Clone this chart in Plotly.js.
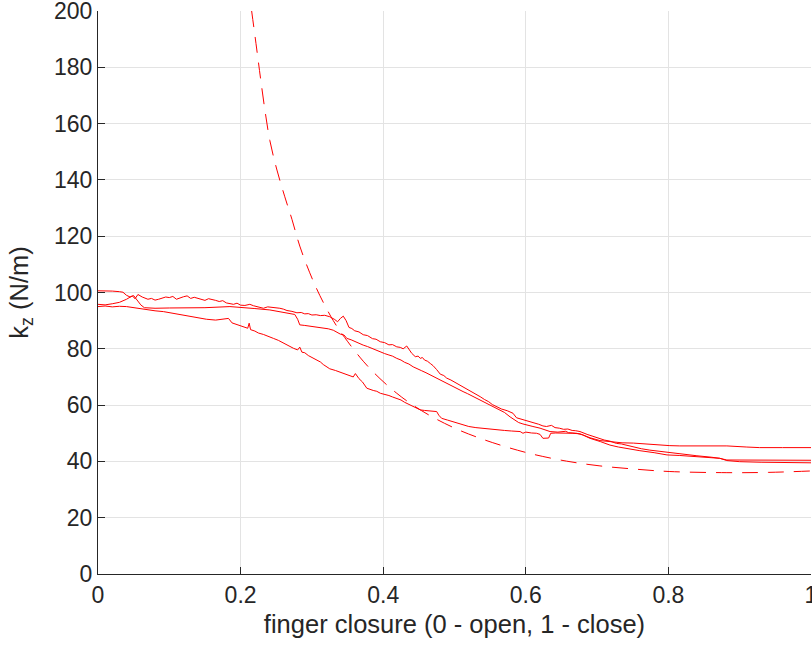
<!DOCTYPE html>
<html>
<head>
<meta charset="utf-8">
<script src="https://cdn.plot.ly/plotly-3.0.1.min.js"></script>
<style>
  html, body { margin: 0; padding: 0; background: #ffffff; }
  #chart { width: 812px; height: 646px; }
</style>
</head>
<body>
<div id="chart"></div>
<script>
// Measured stiffness k_z against finger closure: three recorded sweeps plus a fitted model curve.

const sweepAX = [0.000,0.010,0.020,0.030,0.040,0.048,0.052,0.056,0.062,0.066,0.070,0.075,0.080,0.085,0.090,0.095,0.100,0.105,0.110,0.115,0.120,0.125,0.130,0.135,0.140,0.145,0.150,0.155,0.160,0.165,0.170,0.175,0.180,0.185,0.190,0.195,0.200,0.206,0.213,0.218,0.222,0.227,0.232,0.238,0.245,0.250,0.255,0.260,0.265,0.272,0.279,0.285,0.290,0.295,0.300,0.306,0.312,0.318,0.325,0.332,0.336,0.340,0.344,0.348,0.352,0.356,0.360,0.366,0.372,0.378,0.385,0.390,0.396,0.402,0.408,0.413,0.419,0.424,0.428,0.433,0.436,0.440,0.445,0.449,0.452,0.455,0.458,0.462,0.466,0.470,0.475,0.480,0.485,0.489,0.495,0.500,0.506,0.512,0.518,0.524,0.530,0.536,0.542,0.548,0.553,0.559,0.566,0.574,0.582,0.587,0.594,0.600,0.606,0.612,0.618,0.624,0.629,0.636,0.641,0.647,0.653,0.659,0.665,0.670,0.676,0.686,0.695,0.703,0.710,0.718,0.727,0.734,0.740,0.751,0.762,0.774,0.786,0.798,0.816,0.840,0.860,0.872,0.882,0.900,0.930,0.960,1.000];
const sweepAY = [95.8,95.6,96.0,96.5,97.6,98.8,97.8,99.3,98.4,98.0,97.6,97.9,97.3,97.6,97.9,98.4,98.2,98.6,97.6,98.1,98.5,98.8,97.9,98.3,98.0,97.5,97.2,97.8,97.6,97.2,96.8,97.1,96.3,96.0,95.8,96.2,95.5,95.4,95.8,95.3,95.0,94.8,94.4,94.9,94.8,94.5,94.4,94.1,93.6,93.3,92.8,92.9,92.4,92.5,92.0,92.1,91.8,91.9,91.4,90.4,89.6,90.8,91.6,90.0,87.6,87.2,86.4,86.0,85.0,84.7,83.6,83.4,82.5,82.2,81.4,81.5,80.7,80.5,80.0,81.0,80.0,78.4,77.2,77.4,76.6,76.9,76.0,75.6,74.8,74.0,72.6,71.0,70.5,69.6,68.9,68.2,67.2,66.5,65.6,64.8,63.9,63.0,62.0,61.2,60.2,59.4,58.6,58.0,57.1,55.5,55.0,54.6,54.0,53.6,53.2,52.6,52.4,52.8,52.0,51.8,51.4,51.5,51.0,50.9,50.6,49.6,48.8,48.3,47.6,47.2,46.4,46.2,45.8,45.2,44.5,44.0,43.6,43.2,42.6,42.0,41.5,41.1,40.3,39.9,39.7,39.6,39.5];

const sweepBX = [0.000,0.010,0.020,0.030,0.035,0.040,0.045,0.050,0.055,0.060,0.065,0.080,0.100,0.120,0.150,0.185,0.200,0.220,0.241,0.260,0.276,0.280,0.283,0.290,0.300,0.308,0.316,0.323,0.330,0.335,0.340,0.345,0.349,0.355,0.360,0.366,0.372,0.378,0.385,0.390,0.396,0.402,0.408,0.413,0.419,0.425,0.430,0.436,0.442,0.448,0.454,0.460,0.466,0.472,0.478,0.483,0.489,0.495,0.500,0.506,0.512,0.518,0.524,0.530,0.536,0.542,0.548,0.553,0.559,0.565,0.570,0.578,0.584,0.590,0.596,0.601,0.610,0.620,0.627,0.634,0.645,0.656,0.660,0.671,0.680,0.690,0.705,0.718,0.730,0.741,0.760,0.780,0.798,0.816,0.840,0.872,0.882,0.900,0.950,1.000];
const sweepBY = [100.6,100.6,100.5,100.3,100.1,99.0,98.4,98.9,97.4,95.6,94.6,94.4,94.5,94.5,94.6,95.0,94.8,94.3,93.8,93.0,92.2,90.5,88.5,88.3,88.0,87.7,87.3,87.1,86.6,86.0,85.2,84.9,83.7,83.2,82.6,82.0,81.3,80.8,80.0,79.7,79.0,78.3,77.8,77.4,76.6,76.0,75.2,74.6,73.6,73.0,72.2,71.5,70.7,70.0,69.2,68.6,67.7,67.0,66.2,65.6,64.8,64.1,63.3,62.6,61.8,61.1,60.3,59.7,58.9,58.0,57.4,55.8,54.8,53.8,53.3,52.9,52.4,51.8,51.2,50.6,50.4,50.7,50.2,50.0,49.4,48.2,47.0,45.8,45.1,44.6,43.8,43.1,42.3,42.1,41.7,41.1,40.5,40.5,40.4,40.4];

const sweepCX = [0.000,0.010,0.020,0.030,0.040,0.050,0.063,0.072,0.080,0.092,0.105,0.118,0.130,0.141,0.152,0.165,0.178,0.183,0.188,0.194,0.200,0.205,0.210,0.212,0.214,0.220,0.225,0.232,0.239,0.246,0.253,0.260,0.267,0.274,0.280,0.283,0.286,0.290,0.295,0.300,0.307,0.312,0.316,0.320,0.325,0.333,0.340,0.346,0.352,0.358,0.361,0.366,0.371,0.377,0.386,0.391,0.396,0.402,0.408,0.413,0.419,0.425,0.430,0.436,0.442,0.447,0.452,0.458,0.465,0.470,0.475,0.478,0.482,0.490,0.497,0.505,0.512,0.520,0.530,0.540,0.550,0.560,0.570,0.580,0.592,0.596,0.600,0.608,0.615,0.620,0.624,0.632,0.635,0.642,0.650,0.658,0.665,0.676,0.690,0.704,0.720,0.735,0.751,0.765,0.780,0.802,0.816,0.850,0.882,0.910,0.928,0.960,1.000];
const sweepCY = [95.0,95.2,94.9,95.1,95.0,94.6,94.0,93.9,93.5,93.2,92.6,92.2,91.6,91.2,90.5,90.2,90.6,90.8,89.2,88.7,88.0,87.8,87.3,89.1,86.8,86.3,85.6,85.1,84.3,83.7,83.0,82.0,81.2,80.2,79.6,80.6,78.8,78.6,77.6,77.0,76.0,75.3,74.4,73.8,72.9,72.3,71.6,71.0,70.4,70.0,71.2,69.4,68.2,66.0,65.2,64.9,64.2,63.9,63.4,62.9,62.4,61.8,61.0,60.3,59.4,58.9,58.3,58.1,57.9,57.8,57.7,56.4,55.3,54.7,54.2,53.5,52.9,52.4,52.0,51.7,51.4,51.2,51.0,50.8,50.6,50.0,50.4,50.1,50.0,49.6,48.2,48.3,50.0,50.1,50.1,50.0,50.0,49.8,48.4,47.4,46.9,46.6,46.5,46.2,46.0,45.6,45.5,45.5,45.5,45.1,44.9,44.9,44.9];

const modelX = [0.2155,0.2226,0.2280,0.2340,0.2410,0.2510,0.2620,0.2720,0.2830,0.2970,0.3110,0.3300,0.3460,0.3720,0.3955,0.4190,0.4376,0.4660,0.5030,0.5360,0.5680,0.6060,0.6570,0.7040,0.7510,0.8020,0.8820,0.9400,1.0000];
const modelY = [200.0,186.5,176.0,165.0,154.0,143.5,134.0,126.0,116.5,107.0,99.0,90.0,84.0,75.6,69.4,64.2,60.7,56.2,51.5,48.2,45.5,42.8,40.1,38.4,37.3,36.4,36.0,36.1,36.6];

const xTickVals = [0, 0.2, 0.4, 0.6, 0.8, 1];
const xTickText = ['0', '0.2', '0.4', '0.6', '0.8', '1'];
const yTickVals = [0, 20, 40, 60, 80, 100, 120, 140, 160, 180, 200];

const red = 'rgb(255,0,0)';
const axisInk = '#262626';
const fontFamily = 'Liberation Sans, Arial, Helvetica, sans-serif';

function sweep(x, y) {
  return { x: x, y: y, type: 'scatter', mode: 'lines',
           line: { color: red, width: 1 }, hoverinfo: 'skip', showlegend: false };
}

const traces = [
  sweep(sweepAX, sweepAY),
  sweep(sweepBX, sweepBY),
  sweep(sweepCX, sweepCY),
  { x: modelX, y: modelY, type: 'scatter', mode: 'lines',
    line: { color: red, width: 1, dash: '16px,10px', shape: 'spline', smoothing: 1 },
    hoverinfo: 'skip', showlegend: false }
];

const layout = {
  width: 812, height: 646,
  margin: { l: 98, r: 1, t: 11, b: 72 },
  paper_bgcolor: '#ffffff', plot_bgcolor: '#ffffff',
  font: { family: fontFamily, color: axisInk, size: 23 },
  showlegend: false,
  xaxis: {
    range: [0, 1], tickvals: xTickVals, ticktext: xTickText,
    ticks: 'inside', ticklen: 7, tickwidth: 1, tickcolor: axisInk,
    showline: true, linecolor: axisInk, linewidth: 1, mirror: false,
    showgrid: true, gridcolor: '#e3e3e3', gridwidth: 1, zeroline: false,
    tickfont: { size: 23, color: axisInk },
    ticklabeloverflow: 'allow',
    title: { text: 'finger closure (0 - open, 1 - close)', font: { size: 25.5, color: axisInk }, standoff: 8 },
    automargin: { type: 'title' }
  },
  yaxis: {
    range: [0, 200], tickvals: yTickVals,
    ticks: 'inside', ticklen: 7, tickwidth: 1, tickcolor: axisInk,
    showline: true, linecolor: axisInk, linewidth: 1, mirror: false,
    showgrid: true, gridcolor: '#e3e3e3', gridwidth: 1, zeroline: false,
    tickfont: { size: 23, color: axisInk },
    ticklabeloverflow: 'allow',
    title: { text: 'k<sub>z</sub> (N/m)', font: { size: 25.5, color: axisInk }, standoff: 18 },
    automargin: { type: 'title' }
  }
};

Plotly.newPlot('chart', traces, layout, { displayModeBar: false, staticPlot: true });
</script>
</body>
</html>
